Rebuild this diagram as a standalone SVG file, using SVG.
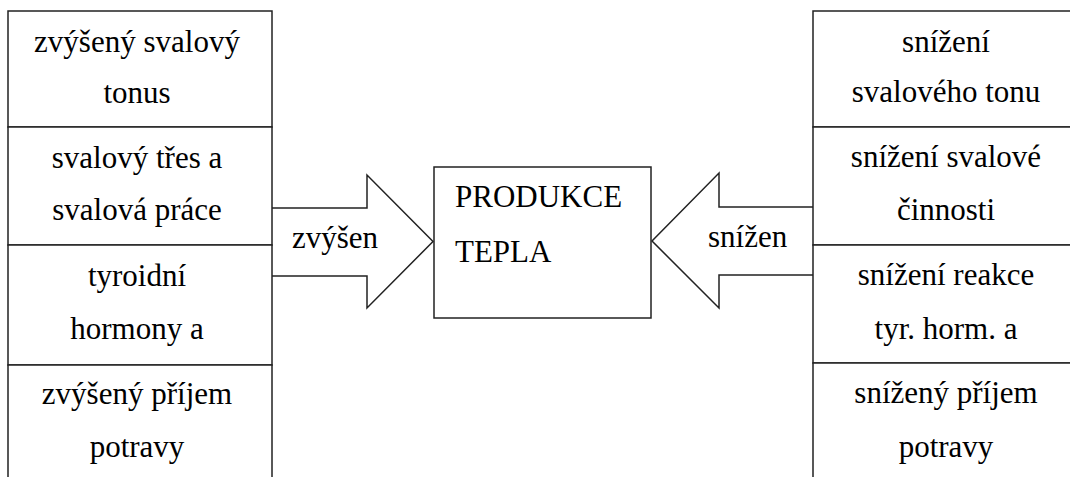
<svg xmlns="http://www.w3.org/2000/svg" width="1070" height="477" viewBox="0 0 1070 477">
<style>
.box{fill:#fff;stroke:#222;stroke-width:1.5}
.arr{fill:#fff;stroke:#222;stroke-width:1.5;stroke-linejoin:miter}
text{font-family:"Liberation Serif","Times New Roman",serif;font-size:31px;fill:#000}
.c{text-anchor:middle}
</style>
<rect width="1070" height="477" fill="#fff"/>
<g id="connectors">
<path class="arr" d="M272,208 H367 V175 L433,241.5 L367,308 V276 H272"/>
<path class="arr" d="M813,207 H719 V173 L652,241 L719,308 V275 H813"/>
<text x="292" y="248">zvýšen</text>
<text x="708" y="247">snížen</text>
</g>
<g id="center">
<rect class="box" x="434" y="167" width="217" height="151"/>
<text x="455" y="207">PRODUKCE</text>
<text x="455" y="262">TEPLA</text>
</g>
<g id="left1"><rect class="box" x="8" y="11" width="264" height="116"/>
<text class="c" x="137" y="52">zvýšený svalový</text><text class="c" x="137" y="103">tonus</text></g>
<g id="left2"><rect class="box" x="8" y="127" width="264" height="118"/>
<text class="c" x="137" y="168">svalový třes a</text><text class="c" x="137" y="220">svalová práce</text></g>
<g id="left3"><rect class="box" x="8" y="245" width="264" height="120"/>
<text class="c" x="137" y="286">tyroidní</text><text class="c" x="137" y="339">hormony a</text></g>
<g id="left4"><rect class="box" x="8" y="365" width="264" height="130"/>
<text class="c" x="137" y="404">zvýšený příjem</text><text class="c" x="137" y="457">potravy</text></g>
<g id="right1"><rect class="box" x="813" y="11" width="270" height="116"/>
<text class="c" x="946" y="52">snížení</text><text class="c" x="946" y="102">svalového tonu</text></g>
<g id="right2"><rect class="box" x="813" y="127" width="270" height="118"/>
<text class="c" x="946" y="167">snížení svalové</text><text class="c" x="946" y="220">činnosti</text></g>
<g id="right3"><rect class="box" x="813" y="245" width="270" height="118"/>
<text class="c" x="946" y="285">snížení reakce</text><text class="c" x="946" y="339">tyr. horm. a</text></g>
<g id="right4"><rect class="box" x="813" y="363" width="270" height="130"/>
<text class="c" x="946" y="403">snížený příjem</text><text class="c" x="946" y="457">potravy</text></g>
</svg>
